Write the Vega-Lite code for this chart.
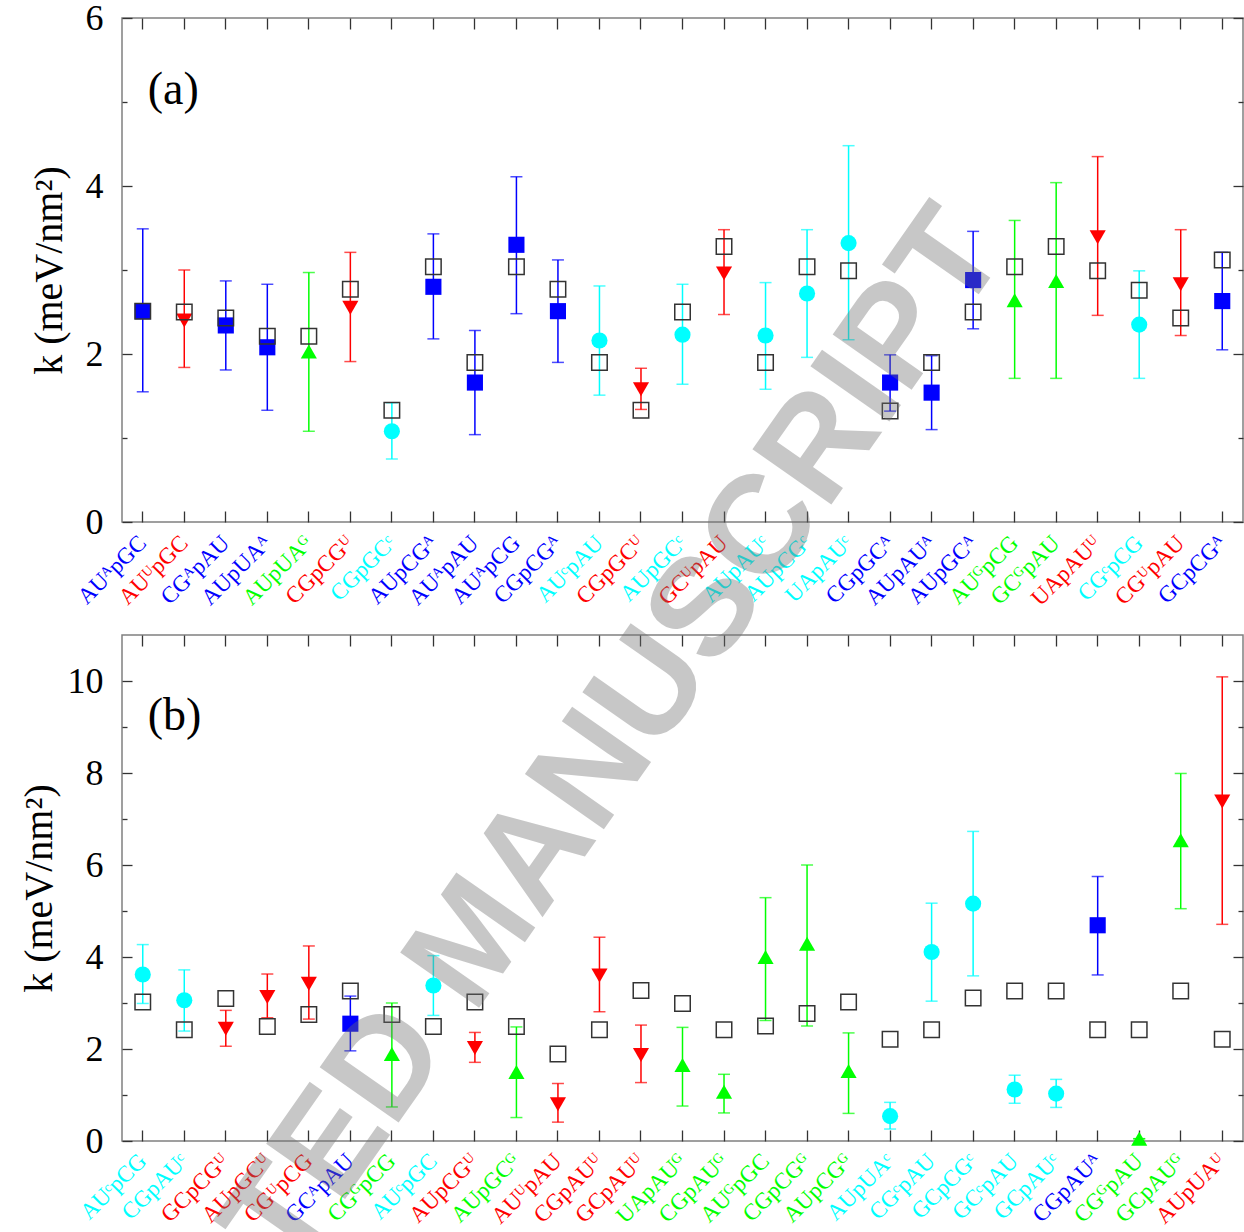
{
  "$schema": "https://vega.github.io/schema/vega-lite/v6.json",
  "autosize": {"type": "none"},
  "padding": {"left": 122, "top": 18, "right": 1122, "bottom": 1214},
  "bounds": "flush",
  "spacing": 113,
  "config": {
    "font": "Liberation Serif",
    "view": {"stroke": "#808080", "strokeWidth": 1.5},
    "axis": {"domain": false, "grid": false, "tickColor": "#333333", "tickWidth": 1.3, "labelFont": "Liberation Serif", "titleFont": "Liberation Serif", "labelColor": "#000000", "titleColor": "#000000", "titleFontWeight": "normal"},
    "scale": {"pointPadding": 0.5}
  },
  "vconcat": [
    {
      "width": 1121,
      "height": 504,
      "data": {"values": [
        {"n": "AUᴬpGC", "g": "A", "k": 2.51, "lo": 1.55, "hi": 3.49, "o": 2.51},
        {"n": "AUᵁpGC", "g": "U", "k": 2.40, "lo": 1.84, "hi": 3.00, "o": 2.50},
        {"n": "CGᴬpAU", "g": "A", "k": 2.34, "lo": 1.81, "hi": 2.87, "o": 2.43},
        {"n": "AUpUAᴬ", "g": "A", "k": 2.08, "lo": 1.33, "hi": 2.83, "o": 2.21},
        {"n": "AUpUAᴳ", "g": "G", "k": 2.03, "lo": 1.08, "hi": 2.97, "o": 2.21},
        {"n": "CGpCGᵁ", "g": "U", "k": 2.55, "lo": 1.91, "hi": 3.21, "o": 2.77},
        {"n": "CGpGCᶜ", "g": "C", "k": 1.08, "lo": 0.75, "hi": 1.42, "o": 1.33},
        {"n": "AUpCGᴬ", "g": "A", "k": 2.80, "lo": 2.18, "hi": 3.43, "o": 3.04},
        {"n": "AUᴬpAU", "g": "A", "k": 1.66, "lo": 1.04, "hi": 2.28, "o": 1.90},
        {"n": "AUᴬpCG", "g": "A", "k": 3.30, "lo": 2.48, "hi": 4.11, "o": 3.04},
        {"n": "CGpCGᴬ", "g": "A", "k": 2.51, "lo": 1.90, "hi": 3.12, "o": 2.77},
        {"n": "AUᶜpAU", "g": "C", "k": 2.16, "lo": 1.51, "hi": 2.81, "o": 1.90},
        {"n": "CGpGCᵁ", "g": "U", "k": 1.58, "lo": 1.34, "hi": 1.83, "o": 1.33},
        {"n": "AUpGCᶜ", "g": "C", "k": 2.23, "lo": 1.64, "hi": 2.83, "o": 2.50},
        {"n": "GCᵁpAU", "g": "U", "k": 2.96, "lo": 2.47, "hi": 3.48, "o": 3.28},
        {"n": "AUpAUᶜ", "g": "C", "k": 2.22, "lo": 1.58, "hi": 2.85, "o": 1.90},
        {"n": "AUpCGᶜ", "g": "C", "k": 2.72, "lo": 1.96, "hi": 3.48, "o": 3.04},
        {"n": "UApAUᶜ", "g": "C", "k": 3.32, "lo": 2.17, "hi": 4.48, "o": 2.99},
        {"n": "CGpGCᴬ", "g": "A", "k": 1.66, "lo": 1.32, "hi": 1.99, "o": 1.32},
        {"n": "AUpAUᴬ", "g": "A", "k": 1.54, "lo": 1.10, "hi": 1.98, "o": 1.90},
        {"n": "AUpGCᴬ", "g": "A", "k": 2.88, "lo": 2.30, "hi": 3.46, "o": 2.50},
        {"n": "AUᴳpCG", "g": "G", "k": 2.64, "lo": 1.71, "hi": 3.59, "o": 3.04},
        {"n": "GCᴳpAU", "g": "G", "k": 2.87, "lo": 1.71, "hi": 4.04, "o": 3.28},
        {"n": "UApAUᵁ", "g": "U", "k": 3.39, "lo": 2.46, "hi": 4.35, "o": 2.99},
        {"n": "CGᶜpCG", "g": "C", "k": 2.35, "lo": 1.71, "hi": 2.99, "o": 2.76},
        {"n": "CGᵁpAU", "g": "U", "k": 2.83, "lo": 2.22, "hi": 3.48, "o": 2.43},
        {"n": "GCpCGᴬ", "g": "A", "k": 2.63, "lo": 2.05, "hi": 3.21, "o": 3.12}
      ]},
      "resolve": {"axis": {"x": "independent", "y": "independent"}},
      "layer": [
        {
          "mark": {"type": "rule", "strokeWidth": 1.5},
          "encoding": {
            "x": {"field": "n", "type": "nominal", "sort": null, "axis": {"orient": "bottom", "title": null, "labelAngle": -45, "labelAlign": "right", "labelBaseline": "middle", "labelFontSize": 23, "tickSize": -11, "labelPadding": 28, "labelColor": {"condition": [{"test": "indexof(datum.value, 'ᴬ') >= 0", "value": "#0000ff"}, {"test": "indexof(datum.value, 'ᵁ') >= 0", "value": "#ff0000"}, {"test": "indexof(datum.value, 'ᴳ') >= 0", "value": "#00ff00"}], "value": "#00ffff"}}},
            "y": {"field": "lo", "type": "quantitative", "scale": {"domain": [0, 6], "nice": false, "zero": false}, "axis": {"orient": "left", "title": "k (meV/nm²)", "titleFontSize": 40, "titlePadding": 16, "values": [0, 1, 2, 3, 4, 5, 6], "labelFontSize": 36, "labelPadding": 29, "labelExpr": "datum.value % 2 === 0 ? datum.label : ''", "tickSize": {"condition": {"test": "datum.value % 2 === 0", "value": -10}, "value": -5}}},
            "y2": {"field": "hi"},
            "color": {"field": "g", "type": "nominal", "scale": {"domain": ["A", "U", "G", "C"], "range": ["#0000ff", "#ff0000", "#00ff00", "#00ffff"]}, "legend": null}
          }
        },
        {
          "mark": {"type": "tick", "size": 12, "thickness": 1.5},
          "encoding": {
            "x": {"field": "n", "type": "nominal", "sort": null, "axis": null},
            "y": {"field": "lo", "type": "quantitative", "axis": null},
            "color": {"field": "g", "type": "nominal", "legend": null}
          }
        },
        {
          "mark": {"type": "tick", "size": 12, "thickness": 1.5},
          "encoding": {
            "x": {"field": "n", "type": "nominal", "sort": null, "axis": null},
            "y": {"field": "hi", "type": "quantitative", "axis": null},
            "color": {"field": "g", "type": "nominal", "legend": null}
          }
        },
        {
          "mark": {"type": "point", "filled": true, "size": 260, "opacity": 1},
          "encoding": {
            "x": {"field": "n", "type": "nominal", "sort": null, "axis": null},
            "y": {"field": "k", "type": "quantitative", "axis": null},
            "color": {"field": "g", "type": "nominal", "legend": null},
            "shape": {"field": "g", "type": "nominal", "scale": {"domain": ["A", "U", "G", "C"], "range": ["square", "triangle-down", "triangle-up", "circle"]}, "legend": null}
          }
        },
        {
          "mark": {"type": "point", "shape": "square", "filled": false, "size": 240, "stroke": "#333333", "strokeWidth": 1.5, "opacity": 1},
          "encoding": {
            "x": {"field": "n", "type": "nominal", "sort": null, "axis": {"orient": "top", "title": null, "labels": false, "tickSize": -11}},
            "y": {"field": "o", "type": "quantitative", "axis": {"orient": "right", "title": null, "labels": false, "values": [0, 1, 2, 3, 4, 5, 6], "tickSize": {"condition": {"test": "datum.value % 2 === 0", "value": -10}, "value": -5}}}
          }
        },
        {
          "transform": [{"filter": "datum.n === 'AUᴬpGC'"}],
          "mark": {"type": "text", "align": "left", "baseline": "middle", "dx": 5, "fontSize": 46, "font": "Liberation Serif", "color": "#000000"},
          "encoding": {
            "x": {"field": "n", "type": "nominal", "sort": null, "axis": null},
            "y": {"datum": 5.14, "type": "quantitative", "axis": null},
            "text": {"value": "(a)"}
          }
        }
      ]
    },
    {
      "width": 1121,
      "height": 506,
      "data": {"values": [
        {"n": "AUᶜpCG", "g": "C", "k": 3.62, "lo": 2.99, "hi": 4.27, "o": 3.02},
        {"n": "CGpAUᶜ", "g": "C", "k": 3.06, "lo": 2.39, "hi": 3.72, "o": 2.42},
        {"n": "GCpCGᵁ", "g": "U", "k": 2.44, "lo": 2.06, "hi": 2.84, "o": 3.10},
        {"n": "AUpGCᵁ", "g": "U", "k": 3.13, "lo": 2.68, "hi": 3.63, "o": 2.49},
        {"n": "CGᵁpCG", "g": "U", "k": 3.42, "lo": 2.65, "hi": 4.24, "o": 2.75},
        {"n": "GCᴬpAU", "g": "A", "k": 2.55, "lo": 1.96, "hi": 3.15, "o": 3.26},
        {"n": "CGᴳpCG", "g": "G", "k": 1.89, "lo": 0.74, "hi": 3.00, "o": 2.75},
        {"n": "AUᶜpGC", "g": "C", "k": 3.38, "lo": 2.73, "hi": 4.03, "o": 2.49},
        {"n": "AUpCGᵁ", "g": "U", "k": 2.02, "lo": 1.71, "hi": 2.36, "o": 3.02},
        {"n": "AUpGCᴳ", "g": "G", "k": 1.50, "lo": 0.51, "hi": 2.48, "o": 2.49},
        {"n": "AUᵁpAU", "g": "U", "k": 0.80, "lo": 0.41, "hi": 1.25, "o": 1.89},
        {"n": "CGpAUᵁ", "g": "U", "k": 3.60, "lo": 2.81, "hi": 4.43, "o": 2.42},
        {"n": "GCpAUᵁ", "g": "U", "k": 1.87, "lo": 1.27, "hi": 2.52, "o": 3.27},
        {"n": "UApAUᴳ", "g": "G", "k": 1.65, "lo": 0.76, "hi": 2.47, "o": 2.99},
        {"n": "CGpAUᴳ", "g": "G", "k": 1.07, "lo": 0.61, "hi": 1.45, "o": 2.42},
        {"n": "AUᴳpGC", "g": "G", "k": 4.00, "lo": 2.62, "hi": 5.29, "o": 2.50},
        {"n": "CGpCGᴳ", "g": "G", "k": 4.29, "lo": 2.50, "hi": 6.00, "o": 2.77},
        {"n": "AUpCGᴳ", "g": "G", "k": 1.52, "lo": 0.60, "hi": 2.35, "o": 3.02},
        {"n": "AUpUAᶜ", "g": "C", "k": 0.54, "lo": 0.26, "hi": 0.84, "o": 2.21},
        {"n": "CGᶜpAU", "g": "C", "k": 4.11, "lo": 3.04, "hi": 5.17, "o": 2.42},
        {"n": "GCpCGᶜ", "g": "C", "k": 5.16, "lo": 3.59, "hi": 6.73, "o": 3.11},
        {"n": "GCᶜpAU", "g": "C", "k": 1.12, "lo": 0.82, "hi": 1.43, "o": 3.26},
        {"n": "GCpAUᶜ", "g": "C", "k": 1.03, "lo": 0.73, "hi": 1.34, "o": 3.26},
        {"n": "CGpAUᴬ", "g": "A", "k": 4.69, "lo": 3.61, "hi": 5.75, "o": 2.42},
        {"n": "CGᴳpAU", "g": "G", "k": 0.05, "lo": 0.05, "hi": 0.05, "o": 2.42},
        {"n": "GCpAUᴳ", "g": "G", "k": 6.54, "lo": 5.05, "hi": 7.99, "o": 3.26},
        {"n": "AUpUAᵁ", "g": "U", "k": 7.38, "lo": 4.71, "hi": 10.09, "o": 2.21}
      ]},
      "resolve": {"axis": {"x": "independent", "y": "independent"}},
      "layer": [
        {
          "mark": {"type": "rule", "strokeWidth": 1.5},
          "encoding": {
            "x": {"field": "n", "type": "nominal", "sort": null, "axis": {"orient": "bottom", "title": null, "labelAngle": -45, "labelAlign": "right", "labelBaseline": "middle", "labelFontSize": 23, "tickSize": -11, "labelPadding": 27, "labelColor": {"condition": [{"test": "indexof(datum.value, 'ᴬ') >= 0", "value": "#0000ff"}, {"test": "indexof(datum.value, 'ᵁ') >= 0", "value": "#ff0000"}, {"test": "indexof(datum.value, 'ᴳ') >= 0", "value": "#00ff00"}], "value": "#00ffff"}}},
            "y": {"field": "lo", "type": "quantitative", "scale": {"domain": [0, 11], "nice": false, "zero": false}, "axis": {"orient": "left", "title": "k (meV/nm²)", "titleFontSize": 40, "titlePadding": 8, "values": [0, 1, 2, 3, 4, 5, 6, 7, 8, 9, 10], "labelFontSize": 36, "labelPadding": 29, "labelExpr": "datum.value % 2 === 0 ? datum.label : ''", "tickSize": {"condition": {"test": "datum.value % 2 === 0", "value": -10}, "value": -5}}},
            "y2": {"field": "hi"},
            "color": {"field": "g", "type": "nominal", "scale": {"domain": ["A", "U", "G", "C"], "range": ["#0000ff", "#ff0000", "#00ff00", "#00ffff"]}, "legend": null}
          }
        },
        {
          "mark": {"type": "tick", "size": 12, "thickness": 1.5},
          "encoding": {
            "x": {"field": "n", "type": "nominal", "sort": null, "axis": null},
            "y": {"field": "lo", "type": "quantitative", "axis": null},
            "color": {"field": "g", "type": "nominal", "legend": null}
          }
        },
        {
          "mark": {"type": "tick", "size": 12, "thickness": 1.5},
          "encoding": {
            "x": {"field": "n", "type": "nominal", "sort": null, "axis": null},
            "y": {"field": "hi", "type": "quantitative", "axis": null},
            "color": {"field": "g", "type": "nominal", "legend": null}
          }
        },
        {
          "mark": {"type": "point", "filled": true, "size": 260, "opacity": 1},
          "encoding": {
            "x": {"field": "n", "type": "nominal", "sort": null, "axis": null},
            "y": {"field": "k", "type": "quantitative", "axis": null},
            "color": {"field": "g", "type": "nominal", "legend": null},
            "shape": {"field": "g", "type": "nominal", "scale": {"domain": ["A", "U", "G", "C"], "range": ["square", "triangle-down", "triangle-up", "circle"]}, "legend": null}
          }
        },
        {
          "mark": {"type": "point", "shape": "square", "filled": false, "size": 240, "stroke": "#333333", "strokeWidth": 1.5, "opacity": 1},
          "encoding": {
            "x": {"field": "n", "type": "nominal", "sort": null, "axis": {"orient": "top", "title": null, "labels": false, "tickSize": -11}},
            "y": {"field": "o", "type": "quantitative", "axis": {"orient": "right", "title": null, "labels": false, "values": [0, 1, 2, 3, 4, 5, 6, 7, 8, 9, 10], "tickSize": {"condition": {"test": "datum.value % 2 === 0", "value": -10}, "value": -5}}}
          }
        },
        {
          "transform": [{"filter": "datum.n === 'AUᶜpCG'"}],
          "mark": {"type": "text", "align": "left", "baseline": "middle", "dx": 5, "fontSize": 46, "font": "Liberation Serif", "color": "#000000"},
          "encoding": {
            "x": {"field": "n", "type": "nominal", "sort": null, "axis": null},
            "y": {"datum": 9.24, "type": "quantitative", "axis": null},
            "text": {"value": "(b)"}
          }
        },
        {
          "transform": [{"filter": "datum.n === 'AUpCGᵁ'"}],
          "mark": {"type": "text", "align": "center", "baseline": "middle", "angle": 305, "fontSize": 140, "font": "Liberation Sans", "fontWeight": "bold", "color": "#6e6e6e", "opacity": 0.38, "clip": false},
          "encoding": {
            "x": {"field": "n", "type": "nominal", "sort": null, "axis": null},
            "y": {"datum": 4.36, "type": "quantitative", "axis": null},
            "text": {"value": "ACCEPTED MANUSCRIPT"}
          }
        }
      ]
    }
  ]
}
